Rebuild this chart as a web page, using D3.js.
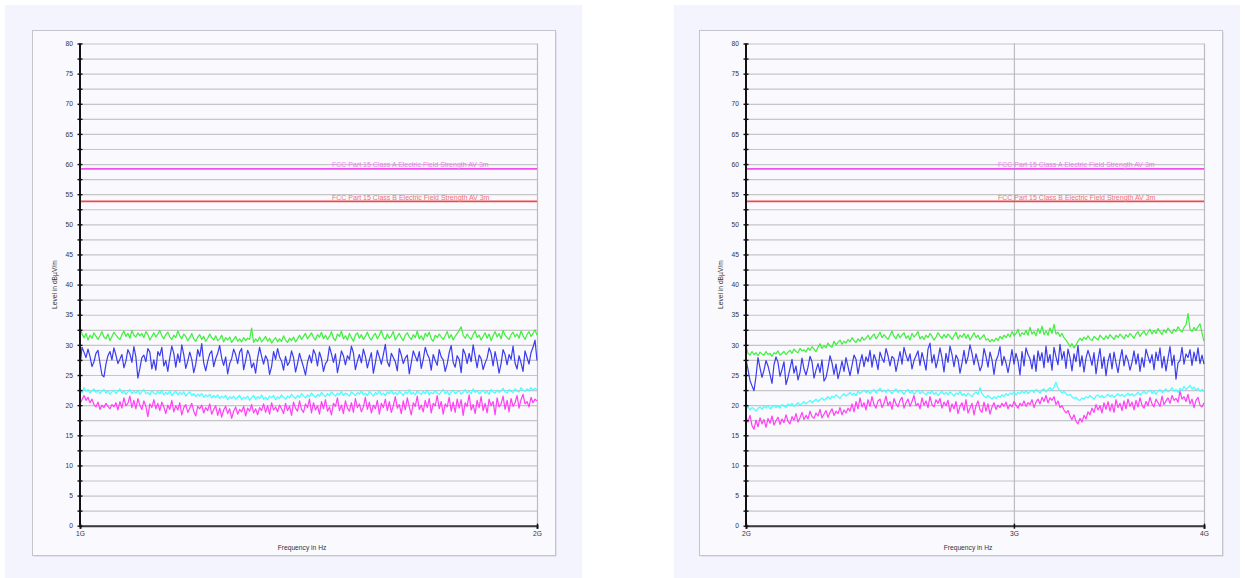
<!DOCTYPE html>
<html><head><meta charset="utf-8">
<script src="https://cdn.jsdelivr.net/npm/d3@7"></script>
<style>
html,body{margin:0;padding:0;background:#ffffff;}
svg{display:block;}
text{font-family:"Liberation Sans",Arial,sans-serif;}
</style></head>
<body>
<svg id="chart" width="1245" height="578"></svg>
<script>
// ---------- DATA ----------
const yTickValues = [0,5,10,15,20,25,30,35,40,45,50,55,60,65,70,75,80];
const yLabel = "Level in dBµV/m";
const xLabel = "Frequency in Hz";

const leftRange = [1e9, 2e9];
const leftTicks = [1e9, 2e9];
const leftTickLabels = ["1G", "2G"];
const rightRange = [2e9, 4e9];
const rightTicks = [2e9, 3e9, 4e9];
const rightTickLabels = ["2G", "3G", "4G"];

const limitNames = ["FCC Part 15 Class A Electric Field Strength AV 3m", "FCC Part 15 Class B Electric Field Strength AV 3m"];
const limitValues = [59.2, 53.8];

// left panel traces (1G - 2G)
const leftGreen = [33.0,31.8,31.2,31.9,30.8,31.6,31.1,32.0,31.4,30.9,
31.5,32.2,31.3,31.0,31.8,30.7,31.4,32.1,31.6,31.2,
30.9,31.7,32.3,31.4,31.9,31.1,32.4,31.6,31.3,32.0,
31.5,31.9,31.2,32.2,31.7,30.8,31.4,32.0,31.3,31.8,
32.4,31.5,31.0,31.7,32.1,31.3,30.9,31.6,31.2,32.3,
31.5,31.0,31.8,31.4,30.7,31.2,31.9,31.0,30.6,31.3,
31.7,30.9,31.4,30.6,31.1,31.8,31.2,30.8,31.5,30.7,
31.0,31.6,30.5,31.2,30.8,31.3,30.4,30.9,31.4,30.6,
31.0,30.5,31.2,30.7,31.1,30.9,32.8,30.4,31.0,30.6,
31.3,30.5,30.9,31.4,30.6,31.1,30.3,30.8,31.2,30.5,
31.0,30.6,31.5,30.8,30.4,31.1,30.7,31.3,30.5,31.0,
31.6,30.9,31.4,31.9,31.0,31.5,32.0,31.2,30.8,31.7,
31.3,32.1,31.0,31.6,30.9,31.4,32.2,31.1,30.7,31.8,
31.4,32.3,31.0,31.5,30.8,31.9,31.2,30.6,31.6,32.0,
31.1,31.7,30.9,31.4,32.1,31.2,30.8,31.5,31.9,31.0,
31.6,32.4,31.3,30.9,31.8,31.1,31.5,32.2,30.8,31.4,
31.9,31.2,30.7,31.6,32.0,31.3,30.9,31.7,31.2,32.3,
31.0,31.5,30.8,31.9,31.4,32.1,31.0,30.6,31.6,31.2,
31.8,31.3,30.9,31.5,32.2,31.1,31.7,30.8,31.4,31.9,
32.4,33.0,31.6,31.1,31.8,31.3,30.9,31.7,32.3,31.2,
31.6,30.8,31.4,32.0,31.1,31.8,30.7,31.5,32.2,31.3,
31.9,31.0,32.4,31.6,31.2,30.9,31.7,32.1,31.3,31.8,
31.1,32.3,31.5,30.9,31.7,32.2,31.4,31.9,32.5,31.6];
const leftBlue = [26.3,29.6,28.8,27.9,29.3,28.1,26.4,27.2,28.6,29.1,
27.0,25.0,24.7,26.8,28.2,28.9,27.5,29.5,28.3,26.9,
27.6,28.4,26.2,27.3,29.2,28.5,27.1,29.7,28.0,24.5,
26.1,27.9,28.3,27.2,29.4,28.8,26.0,27.5,25.8,28.9,
28.2,29.6,26.5,27.4,25.6,27.9,29.8,28.6,26.3,28.5,
27.1,30.0,28.4,26.1,27.3,28.8,27.6,25.4,26.8,29.2,
28.1,30.2,27.0,25.7,27.3,28.5,29.0,26.4,27.7,28.6,
29.9,27.8,26.6,28.0,25.2,26.9,27.7,29.3,28.4,26.9,
28.8,29.4,25.9,27.4,29.1,28.3,26.2,27.0,25.3,27.8,
29.6,28.1,26.8,28.2,27.5,25.1,26.4,28.9,27.6,29.4,
28.0,27.3,25.8,28.1,26.6,27.2,29.0,27.9,25.5,26.9,
28.6,27.4,26.3,25.0,27.1,28.3,27.0,29.2,28.4,26.5,
28.8,27.7,25.6,26.9,27.4,29.7,28.5,27.1,28.5,25.4,
27.0,29.0,28.2,26.7,28.2,27.6,29.8,28.7,25.9,27.3,
28.4,27.0,29.3,28.1,26.2,27.5,28.7,25.3,27.0,29.1,
28.0,26.8,28.4,30.1,27.2,26.4,28.6,27.9,27.2,25.7,
29.4,28.3,26.9,27.8,28.3,25.2,27.0,29.0,28.1,27.3,
28.9,26.1,27.6,29.6,28.5,27.8,25.8,28.4,27.4,26.6,
29.2,28.0,27.5,25.6,26.8,28.7,29.9,27.1,26.3,28.2,
27.6,25.4,29.3,28.5,26.9,28.6,27.2,30.0,28.1,26.2,
28.3,27.7,25.9,27.0,27.8,29.5,28.6,26.5,28.9,27.3,
25.3,26.9,29.2,28.4,26.7,28.4,27.6,29.8,27.0,26.0,
28.2,27.0,25.6,29.0,27.9,26.8,28.7,29.6,30.8,27.4];
const leftCyan = [22.4,22.1,22.9,22.3,22.6,22.0,22.4,22.7,22.1,22.5,
21.9,22.3,22.6,22.0,22.4,21.8,22.2,22.5,21.9,22.3,
22.7,22.0,22.4,21.8,22.2,22.6,21.9,22.3,22.0,22.5,
21.8,22.2,22.6,21.9,22.1,21.7,22.4,22.0,21.8,22.3,
21.9,22.5,21.7,22.1,21.8,22.4,21.6,22.0,22.3,21.7,
22.1,21.8,22.2,21.5,21.9,22.2,21.6,21.9,21.4,21.8,
21.5,21.9,21.3,21.7,21.4,21.8,21.2,21.6,21.3,21.7,
21.1,21.5,21.2,21.6,20.9,21.4,21.1,21.5,21.0,21.3,
21.6,20.9,21.3,21.1,21.5,20.8,21.2,21.6,21.0,21.4,
21.1,21.7,21.0,21.3,20.9,21.5,21.2,21.6,20.9,21.4,
21.1,21.7,21.3,21.0,21.5,21.2,21.8,21.4,21.1,21.6,
21.3,21.9,21.5,21.2,21.7,21.4,22.0,21.6,21.3,21.8,
21.5,22.1,21.7,21.4,21.9,21.6,22.2,21.8,21.5,22.0,
21.7,22.3,21.6,22.0,21.8,21.5,22.2,21.9,21.6,22.1,
21.8,22.4,21.7,22.0,21.6,22.3,21.9,21.5,22.1,21.8,
22.4,21.7,22.0,21.6,22.2,21.9,22.5,21.8,22.1,21.7,
22.3,22.0,21.6,22.2,21.9,22.6,21.8,22.1,21.7,22.4,
22.0,21.8,22.3,21.9,22.5,21.7,22.1,21.9,22.4,22.0,
21.8,22.2,22.6,21.9,22.3,21.7,22.1,22.5,21.9,22.2,
22.4,21.8,22.1,22.6,22.0,22.3,21.9,22.7,22.1,22.4,
21.9,22.2,22.5,22.0,22.3,21.8,22.6,22.2,22.0,22.5,
22.1,22.4,22.8,22.2,22.0,22.6,22.3,22.1,22.7,22.4,
22.2,22.9,22.5,22.3,22.7,22.4,22.9,22.5,22.8,22.6];
const leftMagenta = [20.2,20.9,21.6,20.8,21.3,20.4,21.0,20.1,19.7,20.5,
19.3,20.0,19.6,20.3,19.8,19.4,20.1,19.7,20.4,19.2,
20.6,19.5,21.2,19.9,20.3,21.5,19.6,20.8,19.4,21.1,
20.0,19.3,20.7,19.8,18.1,20.2,19.6,20.9,19.4,20.3,
19.1,20.5,19.7,18.6,20.0,19.3,20.8,18.9,19.9,19.2,
20.4,18.4,19.6,20.1,18.8,19.5,20.3,19.0,18.2,19.8,
19.4,20.0,18.7,19.6,19.1,20.2,18.5,19.3,19.9,18.3,
19.5,18.0,19.2,19.8,18.6,19.4,17.8,19.0,19.7,18.5,
19.3,18.9,19.8,18.2,19.5,19.0,20.1,18.7,19.4,18.4,
19.6,19.1,20.2,18.8,19.9,18.5,20.4,19.2,19.7,18.9,
20.0,19.4,18.6,20.3,19.1,19.8,18.3,20.5,19.5,19.0,
20.7,19.3,18.8,20.2,19.6,21.0,18.7,20.4,19.2,19.9,
18.5,20.6,19.4,20.9,19.0,19.7,18.4,20.3,19.8,21.2,
19.1,20.0,18.6,20.7,19.5,19.0,20.4,18.8,21.1,19.6,
20.2,18.9,19.7,21.3,19.3,20.5,18.7,20.0,19.4,20.8,
18.5,20.3,19.6,21.0,19.1,20.6,18.8,19.9,21.4,19.5,
20.1,18.6,20.7,19.2,21.2,19.7,18.4,20.4,19.8,21.5,
19.3,20.0,18.9,20.8,19.6,21.1,18.7,20.3,19.9,21.6,
19.4,20.6,18.5,20.2,19.7,21.3,19.0,20.5,18.8,21.0,
19.5,20.9,18.3,20.4,19.8,21.7,19.2,20.1,18.6,20.8,
19.6,21.4,19.1,20.3,18.7,21.0,19.9,20.6,18.4,21.2,
19.7,20.2,21.5,19.3,20.8,18.9,21.1,19.8,20.4,21.6,
19.5,20.9,21.8,20.2,20.6,19.7,21.3,20.4,21.0,20.7];

// right panel traces (2G - 4G)
const rightGreen = [29.8,28.6,28.3,28.9,28.4,28.7,28.2,28.8,28.5,28.3,
28.9,28.4,28.6,28.1,28.7,28.5,29.0,28.3,28.6,28.9,
28.4,28.8,29.1,28.6,29.3,28.9,28.7,29.4,29.0,29.2,
28.8,29.5,29.1,29.7,29.3,28.9,29.6,30.2,29.4,29.9,
29.5,30.3,29.8,29.6,30.6,30.0,30.4,30.8,30.1,30.6,
30.3,30.9,30.5,31.2,30.7,30.4,31.0,30.6,31.3,30.8,
31.1,31.6,30.9,31.4,31.8,31.0,31.5,32.1,31.2,31.7,
31.3,30.9,31.6,32.3,31.4,31.0,31.8,31.2,31.6,32.0,
31.1,31.5,30.8,31.9,31.3,31.7,32.2,31.0,31.4,30.9,
31.6,31.2,31.9,31.4,30.8,31.3,32.0,31.5,31.1,31.7,
31.2,31.8,31.4,30.9,31.5,32.1,31.0,31.6,31.3,31.9,
31.1,31.7,30.8,31.4,32.0,31.2,31.6,30.9,31.3,31.7,
30.8,31.0,30.5,30.9,30.6,31.1,30.7,31.4,31.0,31.6,
31.2,31.8,31.3,32.2,31.5,31.9,32.6,31.4,32.0,31.7,
32.4,31.6,32.9,31.8,32.2,31.5,32.7,31.9,33.1,31.7,
32.3,31.6,32.8,31.9,33.4,31.8,32.1,31.4,31.9,31.2,
30.8,30.3,29.7,30.2,29.5,30.0,30.6,31.1,30.7,31.3,
30.9,31.5,31.0,30.7,31.4,31.1,30.8,31.6,31.2,30.9,
31.5,31.0,31.7,31.3,30.9,31.6,31.2,31.8,31.4,31.0,
31.7,31.3,31.9,31.5,31.1,31.8,32.2,31.4,31.9,32.3,
31.6,32.1,32.6,31.8,32.4,31.9,32.7,32.2,31.7,32.5,
32.0,32.8,32.3,31.9,32.6,32.2,33.0,32.5,32.1,32.9,
33.3,35.2,32.6,32.2,32.9,32.4,33.0,33.5,32.0,30.6];
const rightBlue = [27.6,25.9,24.1,23.2,22.4,24.8,27.9,26.2,24.6,25.8,
27.4,26.5,25.1,23.6,26.7,28.0,27.1,24.8,25.9,27.2,
23.4,24.6,26.1,27.6,25.3,26.5,24.2,25.4,27.8,26.0,
25.0,26.3,28.1,27.2,24.5,25.8,26.9,25.4,27.5,24.0,
24.6,26.2,28.2,27.0,25.1,26.8,24.4,25.7,27.3,25.6,
27.9,26.4,24.9,26.6,28.3,27.6,25.2,27.0,28.4,26.4,
28.0,27.2,29.1,26.3,28.4,27.5,25.9,28.8,27.8,27.1,
29.4,28.2,26.5,28.1,27.7,25.6,27.2,28.9,26.8,29.6,
28.3,27.3,28.5,26.0,27.4,28.2,29.0,26.6,28.7,27.4,
25.8,29.3,30.3,27.0,28.4,26.2,27.6,29.5,27.8,25.5,
28.6,27.1,29.8,28.4,26.4,28.3,27.6,25.3,27.0,29.1,
26.9,28.0,30.0,28.6,26.7,28.5,27.2,25.7,26.6,29.4,
28.1,26.3,28.8,27.5,25.1,27.4,28.2,29.7,26.6,28.1,
27.0,25.4,27.2,29.2,26.8,28.6,27.3,25.0,28.9,26.5,
29.5,28.4,27.7,26.0,28.3,25.6,29.0,27.4,28.7,26.2,
29.8,27.1,28.4,25.8,29.6,28.0,26.7,30.1,27.6,28.9,
26.1,29.3,27.9,25.7,28.5,27.2,29.9,26.4,28.2,25.5,
27.8,29.1,28.0,26.6,28.7,25.2,27.5,29.4,26.1,28.0,
24.9,27.3,28.6,26.0,28.8,27.0,25.4,27.6,29.2,26.5,
28.3,27.4,25.8,27.1,29.0,26.8,28.5,25.6,27.9,26.3,
29.3,28.1,27.0,28.4,25.9,28.8,27.4,29.5,26.2,28.1,
25.7,27.8,29.7,26.6,28.3,24.3,27.0,27.4,29.6,26.8,
28.5,27.9,29.2,26.6,28.8,27.3,29.5,26.9,28.3,26.8];
const rightCyan = [19.3,19.8,19.2,19.6,19.4,19.0,19.5,19.7,19.3,19.8,
19.5,19.9,19.4,19.7,20.0,19.6,19.9,19.5,20.1,19.8,
19.6,20.2,19.9,20.3,19.8,20.1,20.4,20.0,20.3,20.6,
20.2,20.5,20.8,20.4,20.7,21.0,20.6,20.9,21.2,20.8,
21.1,21.4,21.0,21.5,21.2,21.7,21.4,21.1,21.6,21.9,
21.5,21.8,22.1,21.7,22.0,21.6,22.3,21.9,22.2,22.5,
22.1,22.4,21.9,22.3,22.6,22.0,22.4,22.8,22.2,22.5,
22.1,22.6,22.3,21.9,22.4,22.7,22.1,22.5,22.2,21.8,
22.3,22.6,22.0,22.4,21.8,22.2,22.5,21.9,22.3,22.0,
21.7,22.2,21.9,22.4,21.8,22.1,21.6,22.0,22.3,21.8,
22.1,21.7,22.2,21.9,21.5,22.0,21.8,22.3,21.6,21.9,
21.5,22.0,21.7,21.4,21.9,22.2,21.8,22.9,21.9,21.5,
21.2,21.6,21.3,21.0,21.4,21.1,21.5,21.3,21.7,21.4,
21.9,21.6,22.0,21.8,22.2,21.7,22.1,21.9,22.3,22.0,
22.4,21.9,22.2,22.5,22.1,22.6,22.3,22.0,22.5,22.7,
22.2,22.6,22.9,22.4,23.0,23.8,22.8,22.4,22.0,22.3,
21.9,21.6,21.8,21.4,21.1,21.3,20.9,20.8,21.2,21.0,
21.4,21.2,21.6,21.3,21.0,21.5,21.7,21.3,21.6,21.2,
21.5,21.8,21.4,21.7,21.3,21.6,21.9,21.5,21.8,21.4,
21.7,22.0,21.6,21.9,21.5,21.8,22.1,21.7,22.0,22.3,
21.9,22.2,22.5,22.0,22.4,21.8,22.3,22.6,22.1,22.4,
22.7,22.2,22.5,22.9,22.3,22.6,22.1,22.8,22.4,23.1,
22.6,22.9,23.3,22.7,23.0,22.5,22.8,22.3,22.6,22.2];
const rightMagenta = [18.0,17.2,18.3,16.6,16.0,17.5,16.4,17.9,16.9,17.6,
16.3,17.8,17.0,18.2,16.7,17.4,18.0,16.8,17.7,17.1,
18.4,17.3,16.9,18.1,17.5,18.6,17.2,17.9,18.8,17.6,
18.3,17.7,19.0,18.1,17.8,18.7,18.2,19.3,17.9,18.5,
19.1,18.0,18.8,19.4,18.3,19.0,18.6,19.6,18.4,19.2,
18.7,19.5,19.0,20.2,18.9,20.6,19.4,21.2,19.7,20.4,
19.2,20.9,19.8,21.4,20.1,19.5,20.7,21.0,19.6,20.3,
21.5,19.9,20.6,19.3,21.1,20.2,19.7,20.8,21.3,19.5,
20.4,21.0,19.8,20.6,21.6,19.9,20.3,19.4,21.2,20.0,
20.7,19.6,21.4,20.1,19.7,20.9,20.3,21.1,19.5,20.5,
19.9,20.8,18.9,20.2,19.4,20.6,18.6,19.8,20.4,19.1,
20.9,18.7,19.5,20.3,18.4,19.9,20.7,19.2,18.8,20.5,
19.0,20.2,18.5,19.7,20.4,19.3,20.0,19.6,20.3,19.8,
20.5,19.4,20.1,19.7,20.6,20.0,19.5,20.3,19.9,20.7,
19.8,20.4,20.1,20.9,19.6,20.5,21.0,20.2,21.3,20.6,
21.6,20.4,21.2,20.8,21.4,20.1,20.7,19.6,19.9,19.2,
18.7,19.1,18.2,17.6,18.4,17.3,16.9,17.8,17.2,18.3,
17.7,18.9,18.4,19.5,18.8,20.1,19.2,19.9,18.7,20.4,
19.3,20.6,19.0,20.2,18.8,20.9,19.6,20.3,19.1,20.7,
19.4,21.0,19.8,20.5,19.2,20.8,19.7,21.2,20.0,19.5,
20.6,19.9,21.3,20.2,19.7,21.0,20.4,19.8,21.5,20.1,
20.7,21.2,20.3,21.6,20.8,21.1,20.5,22.3,21.0,21.4,
20.6,21.8,20.2,21.0,19.6,20.8,21.3,20.0,19.7,20.4];

// ---------- LAYOUT / STYLE ----------
const traceColors = {green:"#3ef03a", blue:"#3c3cee", cyan:"#44ffff", magenta:"#ff40f4"};
const limitLineColors = ["#f050ee", "#f24a4a"];
const limitTextColors = ["#f27af0", "#f47070"];

const panels = [
  {outer:[5,5,577,573], inner:[32,30,523,525], plot:[80,43.5,537,525.7],
   range:leftRange, ticks:leftTicks, labels:leftTickLabels, titleX:302,
   series:[["green",leftGreen],["blue",leftBlue],["cyan",leftCyan],["magenta",leftMagenta]]},
  {outer:[674,5,566,573], inner:[699,30,523,525], plot:[746,43.5,1204,525.7],
   range:rightRange, ticks:rightTicks, labels:rightTickLabels, titleX:968,
   series:[["green",rightGreen],["blue",rightBlue],["cyan",rightCyan],["magenta",rightMagenta]]}
];

const svg = d3.select("#chart");
const FONT = "Liberation Sans, Arial, sans-serif";

panels.forEach(p => {
  const g = svg.append("g");
  g.append("rect").attr("x",p.outer[0]).attr("y",p.outer[1]).attr("width",p.outer[2]).attr("height",p.outer[3]).attr("fill","#f3f4fd");
  g.append("rect").attr("x",p.inner[0]+1.5).attr("y",p.inner[1]+1.5).attr("width",p.inner[2]).attr("height",p.inner[3]).attr("fill","#d4d4da");
  g.append("rect").attr("x",p.inner[0]+0.5).attr("y",p.inner[1]+0.5).attr("width",p.inner[2]).attr("height",p.inner[3])
    .attr("fill","#f9f9fe").attr("stroke","#c4c4cc").attr("stroke-width",1);

  const [x0,y0,x1,y1] = p.plot;
  const x = d3.scaleLog().domain(p.range).range([x0,x1]);
  const y = d3.scaleLinear().domain([0,80]).range([y1,y0]);

  const gridY = g.append("g").attr("transform",`translate(${x0},0)`)
    .call(d3.axisLeft(y).tickValues(d3.range(0,80.01,2.5)).tickSize(-(x1-x0)).tickFormat(""));
  gridY.select(".domain").remove();
  gridY.selectAll("line").attr("stroke","#c6c6c8").attr("stroke-width",1.2);

  const gridX = g.append("g").attr("transform",`translate(0,${y1})`)
    .call(d3.axisBottom(x).tickValues(p.ticks.slice(1)).tickSize(-(y1-y0)).tickFormat(""));
  gridX.select(".domain").remove();
  gridX.selectAll("line").attr("stroke","#bcbcbe").attr("stroke-width",1.2);

  limitValues.forEach((v,i) => {
    g.append("line").attr("x1",x0).attr("x2",x1).attr("y1",y(v)).attr("y2",y(v))
      .attr("stroke",limitLineColors[i]).attr("stroke-width",1.8);
    g.append("text").attr("x",x0+252).attr("y",y(v)-1.8).text(limitNames[i])
      .attr("font-size","7px").attr("fill",limitTextColors[i]);
  });

  p.series.forEach(([name,vals]) => {
    const n = vals.length;
    const f = i => p.range[0]*Math.pow(p.range[1]/p.range[0], i/(n-1));
    const line = d3.line().x((d,i)=>x(f(i))).y(d=>y(d));
    g.append("path").datum(vals).attr("d",line).attr("fill","none")
      .attr("stroke",traceColors[name]).attr("stroke-width",1.2).attr("stroke-linejoin","round");
  });

  const xAx = g.append("g").attr("transform",`translate(0,${y1})`)
    .call(d3.axisBottom(x).tickValues(p.ticks).tickFormat((d,i)=>p.labels[i]).tickSize(3).tickPadding(3));
  xAx.select(".domain").attr("stroke","#3a3a3a").attr("stroke-width",2);
  xAx.selectAll(".tick line").attr("stroke","#111").attr("stroke-width",1.5).attr("y1",-2);
  xAx.selectAll("text").attr("font-size","6.7px").attr("fill","#333").attr("font-family",FONT);

  const yAx = g.append("g").attr("transform",`translate(${x0},0)`)
    .call(d3.axisLeft(y).tickValues(d3.range(0,80.01,2.5))
      .tickFormat(d => yTickValues.includes(d) ? d : "").tickSize(3).tickPadding(4));
  yAx.select(".domain").attr("stroke","#111").attr("stroke-width",2).attr("d",`M0,${y1}V${y0}`);
  yAx.selectAll(".tick line").attr("stroke","#111").attr("stroke-width",1.4).attr("x1",2.5).attr("x2",-2.5);
  yAx.selectAll("text").attr("font-size","6.7px").attr("fill","#333").attr("font-family",FONT);

  g.append("text").attr("x",p.titleX).attr("y",550).attr("text-anchor","middle")
    .attr("font-size","6.7px").attr("fill","#333").text(xLabel);
  g.append("text").attr("transform",`translate(${x0-23},${(y0+y1)/2}) rotate(-90)`).attr("text-anchor","middle")
    .attr("font-size","6.7px").attr("fill","#333").text(yLabel);
});
</script>
</body></html>
